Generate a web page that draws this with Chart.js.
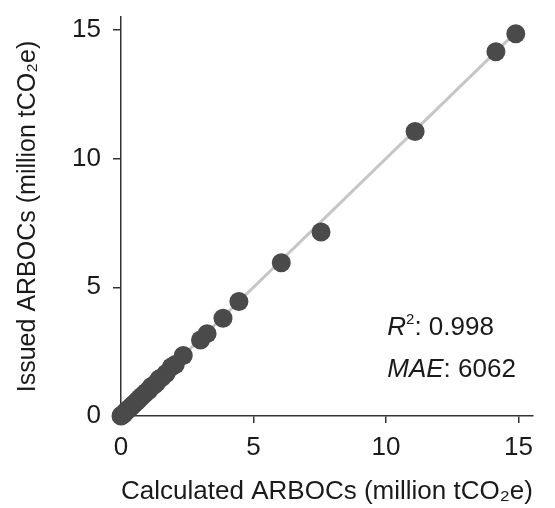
<!DOCTYPE html>
<html>
<head>
<meta charset="utf-8">
<script src="https://cdn.jsdelivr.net/npm/chart.js@4/dist/chart.umd.min.js"></script>
<style>
  body { margin: 0; background: #fff; }
  #wrap { width: 555px; height: 508px; }
</style>
</head>
<body>
<div id="wrap"><canvas id="chart"></canvas></div>
<script>
// calculated vs issued ARBOCs, million tCO2e
const calculated = [14.9, 14.15, 11.1, 7.55, 6.05, 4.45, 3.85, 3.25, 3.0, 2.35, 2.05, 1.9,
  1.7, 1.55, 1.45, 1.35, 1.25, 1.15, 1.05, 0.95, 0.88, 0.8, 0.72, 0.65, 0.58, 0.5,
  0.44, 0.38, 0.32, 0.26, 0.21, 0.16, 0.12, 0.08, 0.05, 0.02, 0.0];
const issued = [14.85, 14.15, 11.05, 7.15, 5.95, 4.45, 3.8, 3.2, 2.95, 2.35, 2.0, 1.9,
  1.65, 1.5, 1.45, 1.3, 1.2, 1.15, 1.0, 0.92, 0.85, 0.78, 0.7, 0.62, 0.55, 0.48,
  0.42, 0.36, 0.3, 0.25, 0.2, 0.15, 0.1, 0.07, 0.04, 0.02, 0.0];
const fitLine = [0, 14.9];
const tickValues = [0, 5, 10, 15];
const statLines = [["R", "2", ": 0.998"], ["MAE", "", ": 6062"]];

const FONT = "'Liberation Sans', Arial, Helvetica, sans-serif";
const TEXT = "#1a1a1a";
const AXIS = "#333333";

const statsPlugin = {
  id: "stats",
  afterDraw(chart) {
    const { ctx, scales: { x, y } } = chart;
    const left = x.getPixelForValue(10.05);
    const rows = [y.getPixelForValue(3.15), y.getPixelForValue(1.53)];
    ctx.save();
    ctx.fillStyle = TEXT;
    ctx.textBaseline = "alphabetic";
    statLines.forEach((parts, i) => {
      let px = left;
      const py = rows[i];
      ctx.font = "italic 26px " + FONT;
      ctx.fillText(parts[0], px, py);
      px += ctx.measureText(parts[0]).width;
      if (parts[1]) {
        ctx.font = "15px " + FONT;
        ctx.fillText(parts[1], px, py - 11);
        px += ctx.measureText(parts[1]).width;
      }
      ctx.font = "26px " + FONT;
      ctx.fillText(parts[2], px, py);
    });
    ctx.restore();
  }
};

new Chart(document.getElementById("chart"), {
  data: {
    datasets: [
      {
        type: "scatter",
        data: calculated.map((v, i) => ({ x: v, y: issued[i] })),
        backgroundColor: "#4a4a4a",
        borderWidth: 0,
        pointRadius: 9.5,
        clip: false,
        order: 1,
      },
      {
        type: "line",
        data: fitLine.map((v) => ({ x: v, y: v })),
        borderColor: "#c6c6c6",
        borderWidth: 3,
        pointRadius: 0,
        order: 2,
      },
    ],
  },
  options: {
    responsive: true,
    maintainAspectRatio: false,
    animation: false,
    layout: { padding: { top: 17, right: 22, left: 0, bottom: 0 } },
    plugins: {
      legend: { display: false },
      tooltip: { enabled: false },
    },
    scales: {
      x: {
        type: "linear",
        min: 0,
        max: 15.55,
        afterFit: (s) => { s.height = 92; s.paddingLeft = 0; s.paddingRight = 0; },
        afterBuildTicks: (s) => { s.ticks = tickValues.map((v) => ({ value: v })); },
        grid: { drawOnChartArea: false, tickLength: 7, color: AXIS, lineWidth: 1.5 },
        border: { color: AXIS, width: 1.5 },
        ticks: { color: TEXT, font: { family: FONT, size: 26 }, padding: 9, maxRotation: 0 },
        title: {
          display: true,
          text: "Calculated ARBOCs (million tCO\u2082e)",
          color: TEXT,
          font: { family: FONT, size: 26.5 },
          padding: { top: 0, bottom: 0 },
        },
      },
      y: {
        type: "linear",
        min: 0,
        max: 15.5,
        afterFit: (s) => { s.width = 121; s.paddingTop = 0; s.paddingBottom = 0; },
        afterBuildTicks: (s) => { s.ticks = tickValues.map((v) => ({ value: v })); },
        grid: { drawOnChartArea: false, tickLength: 8, color: AXIS, lineWidth: 1.5 },
        border: { color: AXIS, width: 1.5 },
        ticks: { color: TEXT, font: { family: FONT, size: 26 }, padding: 12 },
        title: {
          display: true,
          text: "Issued ARBOCs (million tCO\u2082e)",
          color: TEXT,
          font: { family: FONT, size: 25 },
          padding: { top: 13, bottom: 0 },
        },
      },
    },
  },
  plugins: [statsPlugin],
});
</script>
</body>
</html>
